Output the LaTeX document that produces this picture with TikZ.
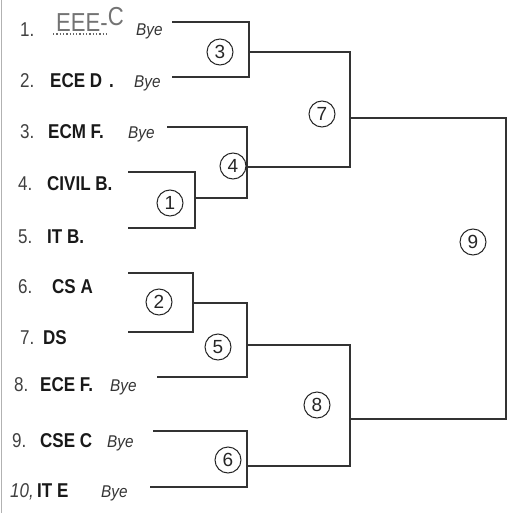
\documentclass[tikz,border=0pt]{standalone}
\usepackage{fontspec}
\setmainfont{Liberation Sans}
\newfontfamily\teamfam{Liberation Sans}[FakeStretch=0.85]
\newfontfamily\byefam{Liberation Sans}[FakeStretch=0.9]
\newfontfamily\scribfam{Liberation Sans}[FakeStretch=0.85]
\newcommand\teamfont{\teamfam\bfseries\fontsize{20}{22}\selectfont}
\newcommand\numfont{\teamfam\fontsize{20}{22}\selectfont}
\newcommand\byefont{\byefam\itshape\fontsize{17}{18}\selectfont}
\newcommand\handfont{\rmfamily\fontsize{19}{20}\selectfont}
\newcommand\scribfont{\scribfam\fontsize{26}{28}\selectfont}
\begin{document}
\begin{tikzpicture}[x=1pt,y=-1pt,
  num/.style={anchor=base west,font=\numfont,text=black!75,inner sep=0},
  team/.style={anchor=base west,font=\teamfont,text=black!90,inner sep=0},
  bye/.style={anchor=base west,font=\byefont,text=black!80,inner sep=0},
  scrib/.style={anchor=base west,font=\scribfont,text=black!55,inner sep=0},
  rnd/.style={circle,draw=black!85,line width=1pt,minimum size=26pt,inner sep=0,font=\handfont,text=black!85},
  ln/.style={line width=1.5pt,draw=black!80}]
\useasboundingbox (0,0) rectangle (507,513);
\draw[black!30,line width=1pt] (1.5,0) -- (1.5,513);

% entries
\node[num]  (n1) at (20,37) {1.};
\node[scrib] (t1) at (56,32) {EEE-\raisebox{6pt}{C}};
\draw[dotted,line width=1.3pt,black!60] (53,34) -- (108,34);
\node[bye]  (y1) at (136,36) {Bye};

\node[num]  (n2) at (20,88) {2.};
\node[team] (t2) at (50,88) {ECE D\hspace{7pt}.};
\node[bye]  (y2) at (134,88) {Bye};

\node[num]  (n3) at (20,139) {3.};
\node[team] (t3) at (48,139) {ECM F.};
\node[bye]  (y3) at (128,139) {Bye};

\node[num]  (n4) at (18,190) {4.};
\node[team] (t4) at (47,190) {CIVIL B.};

\node[num]  (n5) at (18,243) {5.};
\node[team] (t5) at (47,243) {IT B.};

\node[num]  (n6) at (18,293) {6.};
\node[team] (t6) at (52,293) {CS A};

\node[num]  (n7) at (20,344) {7.};
\node[team] (t7) at (43,344) {DS};

\node[num]  (n8) at (14,391) {8.};
\node[team] (t8) at (40,391) {ECE F.};
\node[bye]  (y8) at (110,391) {Bye};

\node[num]  (n9) at (12,447) {9.};
\node[team] (t9) at (40,447) {CSE C};
\node[bye]  (y9) at (107,447) {Bye};

\node[num,font=\numfont\itshape]  (n10) at (10,497) {10,};
\node[team] (t10) at (37,497) {IT E};
\node[bye]  (y10) at (101,497) {Bye};

% bracket coordinates
\coordinate (a1) at (172,22);  \coordinate (a2) at (172,77);
\coordinate (a3) at (167,127);
\coordinate (a4) at (128,172); \coordinate (a5) at (128,228);
\coordinate (a6) at (128,273); \coordinate (a7) at (128,332);
\coordinate (a8) at (157,377);
\coordinate (a9) at (153,431); \coordinate (a10) at (150,487);
\coordinate (m3) at (249,52);
\coordinate (m1) at (195,198);
\coordinate (m4) at (247,167);
\coordinate (m2) at (193,303);
\coordinate (m5) at (247,345);
\coordinate (m6) at (247,466);
\coordinate (t7) at (350,52);  \coordinate (b7) at (350,167); \coordinate (m7) at (350,118);
\coordinate (t8) at (350,345); \coordinate (b8) at (350,466); \coordinate (m8) at (350,419);
\coordinate (t9) at (506,118); \coordinate (b9) at (506,419);

% brackets
\draw[ln] (a1) -| (m3) |- (a2);
\draw[ln] (a4) -| (m1) |- (a5);
\draw[ln] (a3) -| (m4) |- (m1);
\draw[ln] (a6) -| (m2) |- (a7);
\draw[ln] (m2) -| (m5) |- (a8);
\draw[ln] (a9) -| (m6) |- (a10);
\draw[ln] (m3) -- (t7) -- (b7) -- (m4);
\draw[ln] (m5) -- (t8) -- (b8) -- (m6);
\draw[ln] (m7) -- (t9) -- (b9) -- (m8);

% match numbers
\node[rnd] (c3) at (220,52) {3};
\node[rnd] (c4) at (233,166) {4};
\node[rnd] (c1) at (170,203) {1};
\node[rnd] (c7) at (322,114) {7};
\node[rnd] (c2) at (159,302) {2};
\node[rnd] (c5) at (218,347) {5};
\node[rnd] (c8) at (317,405) {8};
\node[rnd] (c6) at (228,460) {6};
\node[rnd] (c9) at (473,242) {9};
\end{tikzpicture}
\end{document}
